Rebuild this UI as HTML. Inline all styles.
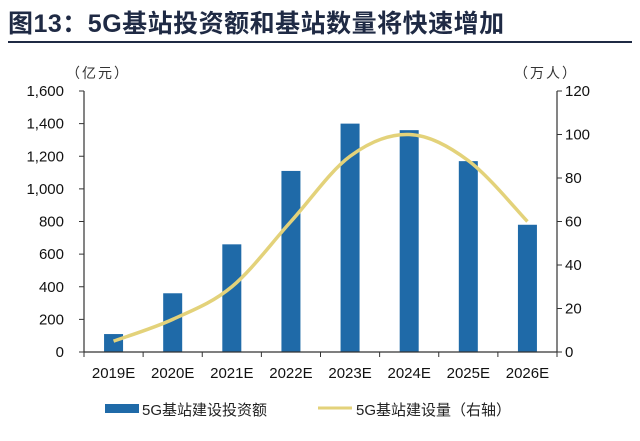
<!DOCTYPE html>
<html><head><meta charset="utf-8"><style>
body{margin:0;background:#fff;width:640px;height:436px;overflow:hidden;font-family:"Liberation Sans","Noto Sans CJK SC",sans-serif}
</style></head><body>
<svg width="640" height="436" xmlns="http://www.w3.org/2000/svg">
<text x="8" y="32" font-size="25" font-weight="bold" fill="#1f2a44" letter-spacing="0.5" font-family="Liberation Sans,Noto Sans CJK SC,sans-serif">图13：5G基站投资额和基站数量将快速增加</text>
<line x1="8" y1="42" x2="632" y2="42" stroke="#1f2a44" stroke-width="2"/>
<text x="66" y="78" font-size="14" fill="#333" letter-spacing="2">（亿元）</text>
<text x="514" y="78" font-size="14" fill="#333" letter-spacing="2">（万人）</text>
<g id="plot"></g>
<g>
<rect x="105" y="404" width="34" height="9" fill="#1f6aa8"/>
<text x="142" y="415" font-size="15" fill="#222">5G基站建设投资额</text>
<line x1="318" y1="408" x2="352" y2="408" stroke="#e3d27a" stroke-width="3"/>
<text x="356" y="415" font-size="15" fill="#222">5G基站建设量（右轴）</text>
</g>
</svg>
<script>
const categories=["2019E","2020E","2021E","2022E","2023E","2024E","2025E","2026E"];
const investment=[110,360,660,1110,1400,1360,1170,780];
const stations=[5,15,30,60,90,100,88,60];
const leftTicks=[0,200,400,600,800,1000,1200,1400,1600];
const rightTicks=[0,20,40,60,80,100,120];
const NS="http://www.w3.org/2000/svg";
const g=document.getElementById('plot');
const X0=84,X1=557,Y0=352,Y1=91;
const bw=(X1-X0)/categories.length;
const yL=v=>Y0-(v/1600)*(Y0-Y1);
const yR=v=>Y0-(v/120)*(Y0-Y1);
const xC=i=>X0+bw*(i+0.5);
function mk(t,a){const e=document.createElementNS(NS,t);for(const k in a)e.setAttribute(k,a[k]);g.appendChild(e);return e;}
investment.forEach((v,i)=>{
const r=mk('rect',{x:xC(i)-9.5,y:yL(v),width:19,height:Y0-yL(v),fill:'#1f6aa8'});


});
let l=mk('line',{x1:X0,y1:Y1,x2:X0,y2:Y0,stroke:'#333','stroke-width':1.2});


l=mk('line',{x1:X1,y1:Y1,x2:X1,y2:Y0,stroke:'#333','stroke-width':1.2});


l=mk('line',{x1:X0,y1:Y0,x2:X1,y2:Y0,stroke:'#333','stroke-width':1.2});


leftTicks.forEach(v=>{
mk('line',{x1:X0-5,y1:yL(v),x2:X0,y2:yL(v),stroke:'#333'});
const t=mk('text',{x:64,y:yL(v)+5,'text-anchor':'end','font-size':15,fill:'#111'});
t.textContent=v.toLocaleString('en-US');


});
rightTicks.forEach(v=>{
mk('line',{x1:X1,y1:yR(v),x2:X1+5,y2:yR(v),stroke:'#333'});
const t=mk('text',{x:565,y:yR(v)+5,'font-size':15,fill:'#111'});
t.textContent=v;


});
categories.forEach((c,i)=>{
mk('line',{x1:X0+bw*i,y1:Y0,x2:X0+bw*i,y2:Y0+5,stroke:'#333'});
const t=mk('text',{x:xC(i),y:Y0+26,'text-anchor':'middle','font-size':15,fill:'#111'});
t.textContent=c;


});
mk('line',{x1:X1,y1:Y0,x2:X1,y2:Y0+5,stroke:'#333'});
const pts=stations.map((v,i)=>[xC(i),yR(v)]);
let d='M'+pts[0][0]+','+pts[0][1];
for(let i=0;i<pts.length-1;i++){
const p0=pts[Math.max(0,i-1)],p1=pts[i],p2=pts[i+1],p3=pts[Math.min(pts.length-1,i+2)];
const c1=[p1[0]+(p2[0]-p0[0])/6,p1[1]+(p2[1]-p0[1])/6];
const c2=[p2[0]-(p3[0]-p1[0])/6,p2[1]-(p3[1]-p1[1])/6];
d+=` C${c1[0]},${c1[1]} ${c2[0]},${c2[1]} ${p2[0]},${p2[1]}`;
}
const p=mk('path',{d:d,fill:'none',stroke:'#e3d27a','stroke-width':3.5});


</script>
</body></html>
